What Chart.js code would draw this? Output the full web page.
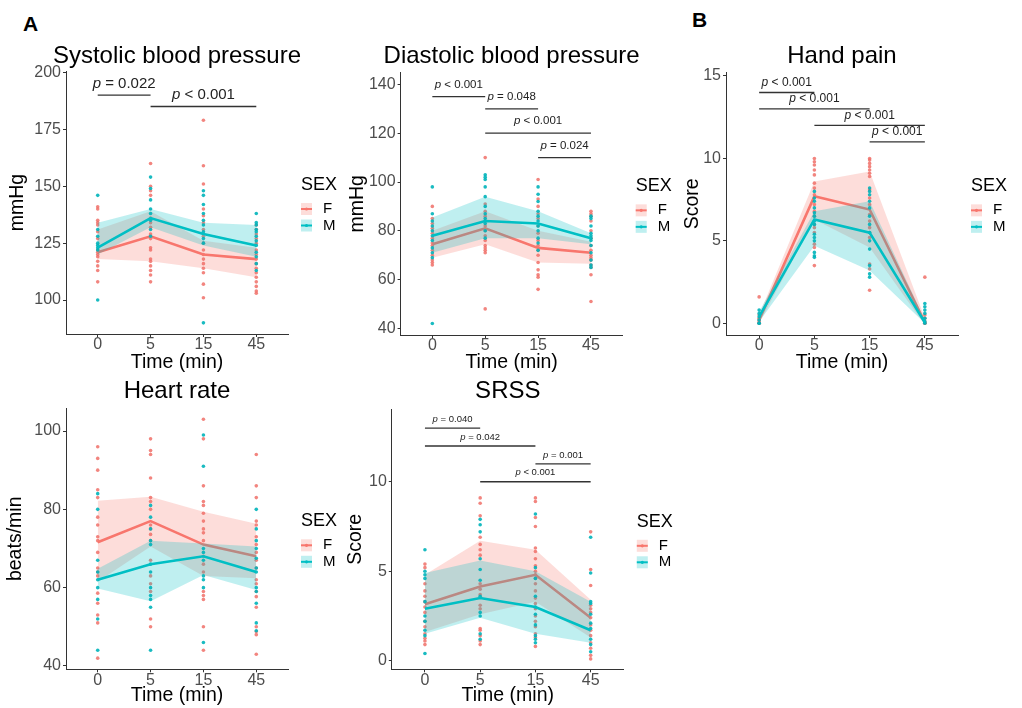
<!DOCTYPE html>
<html lang="en">
<head>
<meta charset="UTF-8">
<title>Blood pressure, heart rate, SRSS and hand pain by sex</title>
<script src="https://cdn.jsdelivr.net/npm/chart.js"></script>
<style>
  body { margin: 0; background: #fff; }
  #page { position: relative; width: 1022px; height: 708px; overflow: hidden; font-family: "Liberation Sans", Arial, sans-serif; }
  #page canvas { position: absolute; }
  .tag { position: absolute; font-weight: bold; font-size: 21px; color: #000; line-height: 24px; }
</style>
</head>
<body>
<div id="page">
  <div class="tag" style="left:23px;top:12px">A</div>
  <div class="tag" style="left:692px;top:8px">B</div>
  <canvas id="sbp"></canvas>
  <canvas id="dbp"></canvas>
  <canvas id="pain"></canvas>
  <canvas id="hr"></canvas>
  <canvas id="srss"></canvas>
</div>

<script>
  // ---- data ----
  const timeLabels = ['0', '5', '15', '45'];
  const sexLabels = ['F', 'M'];

  // Systolic blood pressure (mmHg)
  const sbpTicks = [100, 125, 150, 175, 200];
  const sbpF = [
    [141, 140, 135, 134, 133, 130, 127, 122, 121, 120, 119, 117, 115, 113, 108],
    [160, 150, 148, 146, 136, 134, 132, 129, 127, 123, 122, 118, 117, 115, 113, 111, 108],
    [179, 159, 151, 140, 137, 134, 131, 128, 125, 122, 120, 118, 116, 114, 112, 107, 101],
    [133, 131, 129, 127, 125, 122, 120, 118, 116, 114, 112, 110, 108, 106, 104, 103]
  ];
  const sbpM = [
    [146, 131, 128, 125, 124, 123, 122, 100],
    [154, 149, 144, 140, 138, 135, 131, 128],
    [148, 146, 142, 138, 135, 133, 130, 127, 125, 90],
    [138, 134, 133, 131, 130, 128, 126, 124, 121, 119, 116, 113]
  ];
  const sbpMeanF = [121, 128, 120, 118];
  const sbpLowF = [118, 117, 114, 110];
  const sbpHighF = [131, 139, 126, 123];
  const sbpMeanM = [123, 136, 129, 124];
  const sbpLowM = [120, 132, 124, 119];
  const sbpHighM = [134, 140, 134, 133];
  const sbpBrackets = [[0, 1, 190, '= 0.022'], [1, 3, 185, '< 0.001']];

  // Diastolic blood pressure (mmHg)
  const dbpTicks = [40, 60, 80, 100, 120, 140];
  const dbpF = [
    [90, 85, 83, 81, 79, 77, 75, 74, 72, 70, 68, 67, 66],
    [110, 91, 88, 86, 84, 82, 80, 78, 76, 74, 73, 72, 71, 48],
    [101, 93, 90, 87, 85, 82, 79, 76, 74, 72, 70, 67, 64, 62, 61, 56],
    [88, 87, 86, 84, 80, 77, 74, 72, 70, 69, 68, 66, 65, 62, 51]
  ];
  const dbpM = [
    [98, 87, 84, 82, 80, 78, 76, 73, 71, 69, 42],
    [103, 102, 101, 98, 94, 90, 87, 85, 83, 80, 77],
    [98, 95, 92, 88, 86, 84, 82, 80, 77, 75, 72],
    [86, 85, 82, 79, 78, 77, 76, 74, 71, 68, 66, 65]
  ];
  const dbpMeanF = [74.5, 81, 73, 71];
  const dbpLowF = [69, 74.5, 67, 66.5];
  const dbpHighF = [80, 88, 80, 75.5];
  const dbpMeanM = [78, 84, 83, 77];
  const dbpLowM = [71, 77, 77, 74.5];
  const dbpHighM = [85.5, 94, 88, 79];
  const dbpBrackets = [[0, 1, 135, '< 0.001'], [1, 2, 130, '= 0.048'], [1, 3, 120, '< 0.001'], [2, 3, 110, '= 0.024']];

  // Hand pain (score)
  const painTicks = [0, 5, 10, 15];
  const painF = [
    [1.6, 0.5, 0.3, 0.2, 0.1, 0, 0],
    [10, 9.8, 9.6, 9.3, 9.0, 8.5, 8.2, 7.8, 7.2, 6.8, 6.5, 6.0, 5.8, 5.5, 4.8, 4.6, 3.5],
    [10, 9.9, 9.7, 9.5, 9.3, 9.1, 8.9, 8.1, 7.6, 7.2, 6.6, 6.2, 5.8, 5.5, 5.2, 3.6, 3.3, 2.0],
    [2.8, 0.5, 0.3, 0.1, 0, 0]
  ];
  const painM = [
    [0.8, 0.6, 0.4, 0.2, 0, 0],
    [8.0, 7.6, 7.4, 7.0, 6.7, 6.5, 6.2, 6.0, 5.4, 5.2, 5.0, 4.3, 4.1, 4.0],
    [8.2, 8.0, 7.8, 7.4, 7.0, 6.5, 6.0, 5.5, 5.0, 4.5, 3.5, 3.0, 2.8],
    [1.2, 1.0, 0.8, 0.6, 0.3, 0.1, 0]
  ];
  const painMeanF = [0.2, 7.7, 6.9, 0.05];
  const painLowF = [0, 6.3, 4.6, -0.1];
  const painHighF = [0.5, 8.6, 9.2, 0.3];
  const painMeanM = [0.4, 6.3, 5.5, 0.05];
  const painLowM = [0.1, 4.7, 3.2, 0];
  const painHighM = [0.7, 6.8, 7.4, 0.2];
  const painBrackets = [[0, 1, 14, '< 0.001'], [0, 2, 13, '< 0.001'], [1, 3, 12, '< 0.001'], [2, 3, 11, '< 0.001']];

  // Heart rate (beats/min)
  const hrTicks = [40, 60, 80, 100];
  const hrF = [
    [96, 93, 90, 85, 83, 78, 76, 73, 72, 69, 65, 64, 63, 58.6, 56, 53, 51, 42],
    [98, 95, 94, 88, 83, 82, 80, 76, 75, 73.6, 72, 67, 63, 61, 59, 52, 50],
    [103, 98, 86, 82, 81, 79, 77, 75, 74, 72, 68, 66, 64, 59, 58, 57, 50, 44],
    [94, 86, 83, 77, 76, 73, 71, 69, 67, 65, 62, 61, 59, 57.7, 55, 50, 48.8, 48, 43]
  ];
  const hrM = [
    [84, 80, 67, 64, 62, 60, 57, 52, 44],
    [81, 78, 75, 72, 71, 66, 64, 60, 58, 57, 55, 44],
    [99, 91, 70, 69, 67, 63, 62, 60, 46],
    [80, 75, 72, 70, 67.5, 65, 64, 60, 59, 56, 51, 49]
  ];
  const hrMeanF = [71.6, 77, 71, 68];
  const hrLowF = [61.5, 70.5, 63, 62.4];
  const hrHighF = [82.2, 83.2, 79.4, 76.3];
  const hrMeanM = [62, 66, 68, 64];
  const hrLowM = [59.8, 56.5, 63.2, 59.4];
  const hrHighM = [64.8, 72, 71.3, 70.5];
  const hrBrackets = [];

  // SRSS (score)
  const srssTicks = [0, 5, 10];
  const srssF = [
    [5.4, 5.2, 4.3, 3.9, 3.6, 3.3, 3.0, 2.7, 2.2, 1.9, 1.5, 1.25, 1.1, 0.9],
    [9.1, 8.8, 8.1, 6.9, 6.5, 6.2, 5.9, 4.3, 4.0, 3.7, 3.1, 2.9, 1.8, 1.7, 1.4, 1.1, 0.9],
    [9.1, 8.9, 8.0, 7.5, 6.3, 6.1, 5.7, 5.3, 5.0, 4.8, 4.6, 4.3, 3.9, 3.5, 3.2, 2.9, 2.5, 2.2, 1.9, 1.5, 1.3, 0.8],
    [7.2, 5.1, 4.2, 3.1, 2.9, 2.7, 2.4, 2.0, 1.7, 1.4, 1.0, 0.7, 0.3, 0.1]
  ];
  const srssM = [
    [6.2, 5.0, 4.8, 4.6, 3.3, 2.5, 2.2, 1.7, 1.4, 0.4],
    [7.9, 7.6, 7.2, 5.7, 5.1, 4.5, 3.6, 2.7, 2.5, 1.5, 1.2],
    [8.2, 5.2, 4.6, 3.6, 3.0, 2.6, 2.0, 1.4, 1.2, 1.0],
    [6.9, 4.9, 3.3, 3.2, 2.6, 2.1, 1.8, 1.2, 0.9, 0.5]
  ];
  const srssMeanF = [3.15, 4.15, 4.8, 2.4];
  const srssLowF = [1.6, 2.6, 3.3, 1.3];
  const srssHighF = [4.8, 6.7, 6.2, 3.4];
  const srssMeanM = [2.9, 3.5, 3.0, 1.7];
  const srssLowM = [1.5, 2.4, 1.5, 1.0];
  const srssHighM = [4.9, 5.6, 5.0, 3.3];
  const srssBrackets = [[0, 1, 13, '= 0.040'], [0, 2, 12, '= 0.042'], [2, 3, 11, '= 0.001'], [1, 3, 10, '< 0.001']];

  // ---- styling ----
  const FONT = "'Liberation Sans', Arial, sans-serif";
  Chart.defaults.font.family = FONT;
  const sexColors = ['#F8766D', '#00BFC4'];
  const sexFills = ['rgba(248,118,109,0.25)', 'rgba(0,191,196,0.25)'];
  const sexPoints = ['rgba(240,112,104,0.85)', 'rgba(0,180,186,0.9)'];
  const axisColor = '#333333';
  const tickColor = '#4D4D4D';
  const titleSize = 24;

  const toPoints = cols => cols.flatMap((vals, i) => vals.map(v => ({ x: i, y: v })));
  const toLine = vals => vals.map((v, i) => ({ x: i, y: v }));

  function groupDatasets(k, pts, mean, lo, hi) {
    const base = k === 0 ? 10 : 0;   // F drawn under M
    return [
      { label: sexLabels[k] + ' lo', data: toLine(lo), borderWidth: 0, pointRadius: 0, fill: false, order: base + 3 },
      { label: sexLabels[k] + ' hi', data: toLine(hi), borderWidth: 0, pointRadius: 0, fill: '-1',
        backgroundColor: sexFills[k], order: base + 2 },
      { label: sexLabels[k] + ' pts', data: toPoints(pts), showLine: false, pointRadius: 1.8, pointBorderWidth: 0,
        pointBackgroundColor: sexPoints[k], order: base + 1 },
      { label: sexLabels[k], data: toLine(mean), borderColor: sexColors[k], borderWidth: 2.6, pointRadius: 0,
        fill: false, tension: 0, order: base }
    ];
  }

  function makePanel(id, cfg) {
    const { box, area } = cfg;
    const cv = document.getElementById(id);
    cv.width = box.w; cv.height = box.h;
    cv.style.left = box.x + 'px';
    cv.style.top = box.y + 'px';

    const extras = {
      id: 'extras',
      afterDraw(chart) {
        const ctx = chart.ctx, xs = chart.scales.x, ys = chart.scales.y, ca = chart.chartArea;
        ctx.save();
        // panel title, centred over the plot area (may be wider than it)
        ctx.fillStyle = '#000';
        ctx.font = titleSize + 'px ' + FONT;
        ctx.textAlign = 'center';
        ctx.textBaseline = 'middle';
        ctx.fillText(cfg.title, (ca.left + ca.right) / 2, cfg.titleMid - box.y);
        // significance brackets
        ctx.strokeStyle = axisColor;
        ctx.lineWidth = 1.3;
        ctx.fillStyle = '#222';
        cfg.brackets.forEach(([a, b, yv, txt]) => {
          const x1 = xs.getPixelForValue(a), x2 = xs.getPixelForValue(b), y = ys.getPixelForValue(yv);
          ctx.beginPath();
          ctx.moveTo(x1, y); ctx.lineTo(x2, y);
          ctx.stroke();
          const fi = 'italic ' + cfg.pSize + 'px ' + FONT, fn = cfg.pSize + 'px ' + FONT;
          ctx.font = fi; const wp = ctx.measureText('p').width;
          ctx.font = fn; const wr = ctx.measureText(' ' + txt).width;
          const sx = (x1 + x2) / 2 - (wp + wr) / 2;
          const ty = y - cfg.pGap;
          ctx.textAlign = 'left';
          ctx.font = fi; ctx.fillText('p', sx, ty);
          ctx.font = fn; ctx.fillText(' ' + txt, sx + wp, ty);
        });
        // legend
        const mid = (ca.top + ca.bottom) / 2, lx = ca.right + 13;
        ctx.fillStyle = '#000';
        ctx.font = '18px ' + FONT;
        ctx.textAlign = 'left';
        ctx.fillText('SEX', lx, mid - 17.5);
        sexLabels.forEach((s, k) => {
          const cy = mid + 6.5 + k * 16.5;
          ctx.fillStyle = sexFills[k];
          ctx.fillRect(lx, cy - 6, 11, 12);
          ctx.strokeStyle = sexColors[k];
          ctx.lineWidth = 2;
          ctx.beginPath(); ctx.moveTo(lx, cy); ctx.lineTo(lx + 11, cy); ctx.stroke();
          ctx.fillStyle = sexColors[k];
          ctx.beginPath(); ctx.arc(lx + 5.5, cy, 1.6, 0, Math.PI * 2); ctx.fill();
          ctx.fillStyle = '#000';
          ctx.font = '15px ' + FONT;
          ctx.fillText(s, lx + 22, cy);
        });
        ctx.restore();
      }
    };

    return new Chart(cv, {
      type: 'line',
      data: {
        datasets: [
          ...groupDatasets(0, cfg.f, cfg.meanF, cfg.lowF, cfg.highF),
          ...groupDatasets(1, cfg.m, cfg.meanM, cfg.lowM, cfg.highM)
        ]
      },
      options: {
        responsive: false,
        animation: false,
        events: [],
        layout: { padding: { left: 0, top: area.t - box.y, bottom: 0, right: box.x + box.w - area.r } },
        plugins: {
          legend: { display: false },
          tooltip: { enabled: false },
          title: { display: false }
        },
        scales: {
          x: {
            type: 'linear', min: -0.6, max: 3.6,
            afterBuildTicks: s => { s.ticks = timeLabels.map((_, i) => ({ value: i })); },
            afterFit: s => { s.height = box.y + box.h - area.b; },
            ticks: { callback: v => timeLabels[v], color: tickColor, font: { size: 16, lineHeight: 1 },
                     padding: 0, autoSkip: false, maxRotation: 0 },
            grid: { drawOnChartArea: false, drawTicks: true, tickLength: 3, color: axisColor },
            border: { display: true, color: axisColor, width: 1 },
            title: { display: true, text: 'Time (min)', color: '#000', font: { size: 19.5 },
                     padding: { top: 0, bottom: cfg.xTitleFromBottom - 19.5 * 1.2 / 2 } }
          },
          y: {
            min: cfg.yMin, max: cfg.yMax,
            afterBuildTicks: s => { s.ticks = cfg.yTicks.map(v => ({ value: v })); },
            afterFit: s => { s.width = area.l - box.x; },
            ticks: { color: tickColor, font: { size: 16, lineHeight: 1 }, padding: 2 },
            grid: { drawOnChartArea: false, drawTicks: true, tickLength: 3, color: axisColor },
            border: { display: true, color: axisColor, width: 1 },
            title: { display: true, text: cfg.yTitle, color: '#000', font: { size: 19.5 },
                     padding: { top: cfg.yTitleX - 19.5 * 1.2 / 2, bottom: 0 } }
          }
        }
      },
      plugins: [extras]
    });
  }

  makePanel('sbp', {
    title: 'Systolic blood pressure', yTitle: 'mmHg',
    box: { x: 0, y: 0, w: 340, h: 376 }, area: { l: 66, t: 71, r: 288, b: 334 },
    titleMid: 56, yTitleX: 18, xTitleFromBottom: 13,
    yMin: 85.1, yMax: 200.6, yTicks: sbpTicks,
    f: sbpF, m: sbpM, meanF: sbpMeanF, lowF: sbpLowF, highF: sbpHighF,
    meanM: sbpMeanM, lowM: sbpLowM, highM: sbpHighM,
    brackets: sbpBrackets, pSize: 15, pGap: 11.5
  });

  makePanel('dbp', {
    title: 'Diastolic blood pressure', yTitle: 'mmHg',
    box: { x: 340, y: 0, w: 340, h: 376 }, area: { l: 400.6, t: 72.7, r: 622.7, b: 335 },
    titleMid: 56, yTitleX: 18, xTitleFromBottom: 13,
    yMin: 37.3, yMax: 144.8, yTicks: dbpTicks,
    f: dbpF, m: dbpM, meanF: dbpMeanF, lowF: dbpLowF, highF: dbpHighF,
    meanM: dbpMeanM, lowM: dbpLowM, highM: dbpHighM,
    brackets: dbpBrackets, pSize: 11.5, pGap: 12
  });

  makePanel('pain', {
    title: 'Hand pain', yTitle: 'Score',
    box: { x: 680, y: 0, w: 342, h: 376 }, area: { l: 726, t: 72.7, r: 958, b: 335 },
    titleMid: 56, yTitleX: 12.5, xTitleFromBottom: 13,
    yMin: -0.71, yMax: 15.2, yTicks: painTicks,
    f: painF, m: painM, meanF: painMeanF, lowF: painLowF, highF: painHighF,
    meanM: painMeanM, lowM: painLowM, highM: painHighM,
    brackets: painBrackets, pSize: 12, pGap: 10
  });

  makePanel('hr', {
    title: 'Heart rate', yTitle: 'beats/min',
    box: { x: 0, y: 376, w: 340, h: 332 }, area: { l: 66, t: 408.3, r: 288, b: 669.3 },
    titleMid: 391, yTitleX: 16, xTitleFromBottom: 12,
    yMin: 39.15, yMax: 105.8, yTicks: hrTicks,
    f: hrF, m: hrM, meanF: hrMeanF, lowF: hrLowF, highF: hrHighF,
    meanM: hrMeanM, lowM: hrLowM, highM: hrHighM,
    brackets: hrBrackets, pSize: 12, pGap: 10
  });

  makePanel('srss', {
    title: 'SRSS', yTitle: 'Score',
    box: { x: 340, y: 376, w: 340, h: 332 }, area: { l: 391.8, t: 409.3, r: 623.8, b: 669.3 },
    titleMid: 391, yTitleX: 16, xTitleFromBottom: 12,
    yMin: -0.48, yMax: 14.05, yTicks: srssTicks,
    f: srssF, m: srssM, meanF: srssMeanF, lowF: srssLowF, highF: srssHighF,
    meanM: srssMeanM, lowM: srssLowM, highM: srssHighM,
    brackets: srssBrackets, pSize: 9.5, pGap: 9
  });
</script>
</body>
</html>
